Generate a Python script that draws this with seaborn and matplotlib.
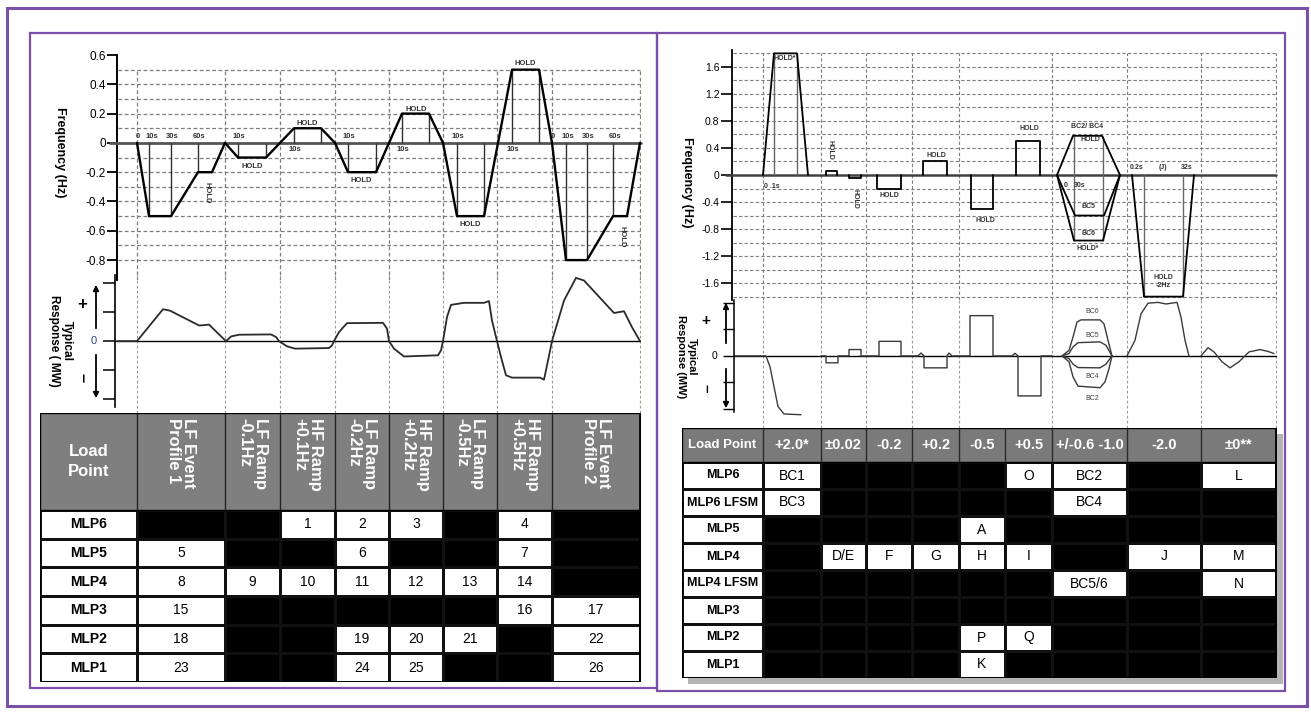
import matplotlib
matplotlib.use("Agg")
import matplotlib.pyplot as plt
import seaborn as sns
import pandas as pd
from matplotlib.patches import Rectangle
from matplotlib.colors import ListedColormap

# ======================= LEFT PANEL DATA =======================
left_bounds = [0, 88, 143, 198, 252, 306, 360, 415, 503]
left_cols = ["LF Event\nProfile 1", "LF Ramp\n-0.1Hz", "HF Ramp\n+0.1Hz", "LF Ramp\n-0.2Hz",
             "HF Ramp\n+0.2Hz", "LF Ramp\n-0.5Hz", "HF Ramp\n+0.5Hz", "LF Event\nProfile 2"]
left_rows = ["MLP6", "MLP5", "MLP4", "MLP3", "MLP2", "MLP1"]
left_cells = [
    ["", "", "1", "2", "3", "", "4", ""],
    ["5", "", "", "6", "", "", "7", ""],
    ["8", "9", "10", "11", "12", "13", "14", ""],
    ["15", "", "", "", "", "", "16", "17"],
    ["18", "", "", "19", "20", "21", "", "22"],
    ["23", "", "", "24", "25", "", "", "26"],
]

# frequency profile (time units, Hz)
lf_t = [0, 12, 34, 61, 75, 88, 101, 129, 143, 157, 184, 198, 211, 239, 252, 265, 292,
        306, 320, 347, 361, 375, 402, 415, 429, 450, 476, 490, 503]
lf_f = [0, -0.5, -0.5, -0.2, -0.2, 0, -0.1, -0.1, 0, 0.1, 0.1, 0, -0.2, -0.2, 0, 0.2, 0.2,
        0, -0.5, -0.5, 0, 0.5, 0.5, 0, -0.8, -0.8, -0.5, -0.5, 0]
lf_mark_t = [12, 34, 61, 101, 129, 157, 184, 211, 239, 265, 292, 320, 347, 375, 402, 429, 450, 476]
lf_mark_f = [-0.5, -0.5, -0.2, -0.1, -0.1, 0.1, 0.1, -0.2, -0.2, 0.2, 0.2, -0.5, -0.5, 0.5, 0.5,
             -0.8, -0.8, -0.5]
lf_yticks = [0.6, 0.4, 0.2, 0, -0.2, -0.4, -0.6, -0.8]
lf_yticklabels = ["0.6", "0.4", "0.2", "0", "-0.2", "-0.4", "-0.6", "-0.8"]
lf_grid = [0.5, 0.4, 0.3, 0.2, 0.1, -0.1, -0.2, -0.3, -0.4, -0.5, -0.6, -0.7, -0.8]
lf_time_text = ["0", "10s", "30s", "60s", "10s", "10s", "10s", "10s", "10s", "10s", "0", "10s", "30s", "60s"]
lf_time_t = [0, 14, 34, 61, 101, 157, 211, 265, 320, 375, 415, 430, 450, 477]
lf_time_side = [1, 1, 1, 1, 1, -1, 1, -1, 1, -1, 1, 1, 1, 1]
lf_hold_t = [115, 170, 224, 279, 333, 388]
lf_hold_f = [-0.16, 0.13, -0.26, 0.23, -0.56, 0.54]
lf_vhold_t = [70, 485]
lf_vhold_f = [-0.34, -0.64]

# typical response (relative MW)
lr_t = [-20, 0, 26, 33, 62, 67, 72, 80, 89, 94, 102, 134, 139, 142, 150, 158, 192, 195, 197,
        202, 210, 246, 250, 252, 257, 267, 301, 304, 306, 310, 314, 327, 347, 352, 355, 360,
        364, 369, 375, 403, 407, 411, 415, 427, 439, 447, 477, 487, 495, 503]
lr_v = [0, 0, 1.1, 1.05, 0.54, 0.55, 0.57, 0.3, 0, 0.16, 0.22, 0.23, 0.14, 0, -0.18, -0.26,
        -0.24, -0.15, 0, 0.31, 0.62, 0.63, 0.43, 0, -0.26, -0.53, -0.49, -0.32, 0, 0.83, 1.25,
        1.32, 1.32, 1.38, 0.71, 0, -0.55, -1.18, -1.26, -1.26, -1.33, -0.67, 0, 1.4, 2.18,
        2.09, 0.97, 1.03, 0.48, 0]
resp_ticks = [-2, -1, 0, 1, 2]

# ======================= RIGHT PANEL DATA =======================
right_bounds = [0, 58, 103, 149, 196, 242, 289, 364, 438, 513]
right_grid_x = [0, 58, 103, 149, 196, 289, 364, 438, 513]
right_cols = ["+2.0*", "±0.02", "-0.2", "+0.2", "-0.5", "+0.5", "+/-0.6 -1.0", "-2.0", "±0**"]
right_rows = ["MLP6", "MLP6 LFSM", "MLP5", "MLP4", "MLP4 LFSM", "MLP3", "MLP2", "MLP1"]
right_cells = [
    ["BC1", "", "", "", "", "O", "BC2", "", "L"],
    ["BC3", "", "", "", "", "", "BC4", "", ""],
    ["", "", "", "", "A", "", "", "", ""],
    ["", "D/E", "F", "G", "H", "I", "", "J", "M"],
    ["", "", "", "", "", "", "BC5/6", "", "N"],
    ["", "", "", "", "", "", "", "", ""],
    ["", "", "", "", "P", "Q", "", "", ""],
    ["", "", "", "", "K", "", "", "", ""],
]

rf_yticks = [1.6, 1.2, 0.8, 0.4, 0, -0.4, -0.8, -1.2, -1.6]
rf_yticklabels = ["1.6", "1.2", "0.8", "0.4", "0", "-0.4", "-0.8", "-1.2", "-1.6"]
rf_grid = [1.8, 1.6, 1.4, 1.2, 1.0, 0.8, 0.6, 0.4, 0.2, -0.2, -0.4, -0.6, -0.8, -1.0, -1.2,
           -1.4, -1.6, -1.8]
rf_pulse_t = [0, 11, 34, 45]
rf_pulse_f = [0, 1.8, 1.8, 0]
rf_box_start = [63, 86, 114, 160, 208, 253]
rf_box_end = [74, 98, 138, 184, 230, 277]
rf_box_level = [0.06, -0.05, -0.2, 0.2, -0.5, 0.5]
rf_bcup_t = [294, 310, 339, 357]
rf_bcup_f = [0, 0.58, 0.58, 0]
rf_bc5_t = [294, 312, 341, 357]
rf_bc5_f = [0, -0.6, -0.6, 0]
rf_bc6_t = [294, 311, 340, 357]
rf_bc6_f = [0, -0.97, -0.97, 0]
rf_neg_t = [369, 381, 420, 431]
rf_neg_f = [0, -1.8, -1.8, 0]
rf_vl_t = [11, 34, 311, 340, 381, 420]
rf_vl_lo = [0, 0, -0.97, -0.97, -1.8, -1.8]
rf_vl_hi = [1.8, 1.8, 0.58, 0.58, 0, 0]

rr_pulse_t = [-29, 3, 7, 11, 15, 21, 38]
rr_pulse_v = [0, 0, -0.41, -1.16, -1.91, -2.19, -2.22]
rr_step_t = [58, 63, 63, 75, 75, 86, 86, 98, 98, 112, 116, 116, 138, 138, 155, 158, 161, 161,
             184, 184, 186, 189, 204, 207, 207, 230, 230, 249, 252, 255, 255, 278, 278, 289]
rr_step_v = [0, 0, -0.26, -0.26, 0, 0, 0.24, 0.24, 0, 0, 0, 0.55, 0.55, 0, 0, 0.11, 0, -0.45,
             -0.45, 0, 0.11, 0, 0, 0, 1.52, 1.52, 0, 0, 0.1, 0, -1.51, -1.51, 0, 0]
rr_bc6_t = [299, 306, 310, 314, 318, 337, 341, 345, 349]
rr_bc6_v = [0, 0.21, 0.71, 1.28, 1.36, 1.36, 1.21, 0.59, 0]
rr_bc5_t = [299, 306, 310, 315, 337, 343, 349]
rr_bc5_v = [0, 0.09, 0.34, 0.5, 0.53, 0.4, 0]
rr_bc4_t = [299, 306, 310, 315, 337, 343, 349]
rr_bc4_v = [0, -0.1, -0.31, -0.44, -0.45, -0.31, 0]
rr_bc2_t = [299, 306, 310, 315, 337, 342, 346, 349]
rr_bc2_v = [0, -0.22, -0.79, -1.14, -1.2, -0.98, -0.48, 0]
rr_big_t = [364, 372, 378, 385, 395, 403, 414, 418, 422, 426]
rr_big_v = [0, 0.59, 1.59, 1.99, 2.02, 1.96, 2.02, 1.46, 0.59, 0]
rr_osc_t = [438, 445, 451, 459, 467, 476, 486, 497, 505, 511]
rr_osc_v = [0, 0.31, 0.15, -0.22, -0.45, -0.22, 0.15, 0.24, 0.17, 0.09]

# ======================= FIGURE =======================
sns.set_theme(style="white", rc={"axes.edgecolor": "black", "xtick.color": "black",
                                 "ytick.color": "black", "text.color": "black"})
plt.rcParams["font.family"] = ["Liberation Sans", "DejaVu Sans"]
NARROW = ["Liberation Sans Narrow", "Liberation Sans", "DejaVu Sans"]

W, H = 1311, 713
fig = plt.figure(figsize=(W / 100, H / 100), dpi=100)
fig.patch.set_facecolor("white")

bg = fig.add_axes([0, 0, 1, 1])
bg.set_xlim(0, W)
bg.set_ylim(H, 0)
bg.axis("off")
purple = "#7a50a8"
bg.add_patch(Rectangle((7, 8), 1300, 698, fill=False, ec=purple, lw=2.2))
bg.add_patch(Rectangle((30, 33), 627, 655, fill=False, ec=purple, lw=1.6))
bg.add_patch(Rectangle((657, 33), 628, 658, fill=False, ec=purple, lw=1.6))
bg.add_patch(Rectangle((688, 434), 595, 250, fc="#b4b4b4", ec="none"))


def add_ax(x0, y0, x1, y1):
    ax = fig.add_axes([x0 / W, 1 - y1 / H, (x1 - x0) / W, (y1 - y0) / H])
    ax.set_facecolor("none")
    for s in ax.spines.values():
        s.set_visible(False)
    return ax


DASH = (0, (3, 2))
GRID_C = "#7d7d7d"

# ---------------- left frequency chart ----------------
axLF = add_ax(117, 55, 641, 280)
axLF.hlines(lf_grid, -19, 503, colors=GRID_C, linestyles=DASH, lw=0.9)
axLF.vlines(left_bounds, -0.94, 0.5, colors=GRID_C, linestyles=DASH, lw=0.9)
axLF.plot([-27, 504], [0, 0], color="#555555", lw=2, clip_on=False, zorder=3)
axLF.vlines(lf_mark_t, 0, lf_mark_f, colors="#303030", lw=1, zorder=3)
sns.lineplot(x=lf_t, y=lf_f, ax=axLF, sort=False, estimator=None, color="black", lw=1.7, zorder=4)
axLF.set_xlim(-20, 504)
axLF.set_ylim(-0.936, 0.6)
axLF.spines["left"].set_visible(True)
axLF.spines["left"].set_linewidth(1.4)
axLF.set_xticks([])
axLF.set_yticks(lf_yticks)
axLF.set_yticklabels(lf_yticklabels)
axLF.tick_params(axis="y", direction="out", length=7, width=1.3, labelsize=8.5, pad=1, left=True)
axLF.set_xlabel("")
axLF.set_ylabel("")
for txt, t, side in zip(lf_time_text, lf_time_t, lf_time_side):
    axLF.text(t + 1, 0.02 * side, txt, ha="center", va="bottom" if side > 0 else "top",
              fontsize=5.5, fontweight="bold", color="#333333", zorder=5)
for t, f in zip(lf_hold_t, lf_hold_f):
    axLF.text(t, f, "HOLD", ha="center", va="center", fontsize=5.5, fontweight="bold",
              color="#333333", zorder=5)
for t, f in zip(lf_vhold_t, lf_vhold_f):
    axLF.text(t, f, "HOLD", ha="center", va="center", fontsize=5.5, fontweight="bold",
              color="#333333", rotation=-90, zorder=5)
bg.text(60, 152, "Frequency (Hz)", rotation=-90, ha="center", va="center", fontsize=9,
        fontweight="bold")

# ---------------- left response chart ----------------
axLR = add_ax(115, 275, 641, 413)
axLR.vlines(left_bounds, -2.48, 2.28, colors="#9a9a9a", linestyles=(0, (2.5, 2)), lw=0.8)
axLR.plot([-22, 503], [0, 0], color="black", lw=1)
sns.lineplot(x=lr_t, y=lr_v, ax=axLR, sort=False, estimator=None, color="#2a2a2a", lw=1.3)
axLR.set_xlim(-22, 504)
axLR.set_ylim(-2.48, 2.28)
axLR.spines["left"].set_visible(True)
axLR.spines["left"].set_bounds(-2.28, 2.28)
axLR.spines["left"].set_linewidth(1.2)
axLR.set_xticks([])
axLR.set_yticks(resp_ticks)
axLR.set_yticklabels([])
axLR.tick_params(axis="y", direction="out", length=9, width=1.1, left=True)
axLR.set_xlabel("")
axLR.set_ylabel("")
bg.text(60, 341, "Typical\nResponse ( MW)", rotation=-90, ha="center", va="center",
        fontsize=8.5, fontweight="bold", multialignment="center", linespacing=1.1)
bg.text(82, 304, "+", ha="center", va="center", fontsize=12, fontweight="bold")
bg.text(82, 378, "–", ha="center", va="center", fontsize=12, fontweight="bold", rotation=-90)
bg.text(94, 341, "0", ha="center", va="center", fontsize=8, color="#2b3f73")
arrow = dict(arrowstyle="-|>", color="black", lw=1.3, mutation_scale=8)
bg.annotate("", xy=(96, 282), xytext=(96, 331), arrowprops=arrow)
bg.annotate("", xy=(96, 401), xytext=(96, 352), arrowprops=arrow)

# ---------------- left table ----------------
axLT = add_ax(40, 413, 641, 682)
lt_hdr = 97
lt_rowh = (269 - lt_hdr) / len(left_rows)
lxe = [-97] + left_bounds
lye = [lt_hdr + i * lt_rowh for i in range(len(left_rows) + 1)]
lmat = [[1] + [1 if c else 0 for c in row] for row in left_cells]
axLT.pcolormesh(lxe, lye, lmat, cmap=ListedColormap(["black", "white"]), vmin=0, vmax=1,
                edgecolors="#111111", linewidth=0.9)
axLT.add_patch(Rectangle((-97, 0), 600, lt_hdr, fc="#7f7f7f", ec="black", lw=1))
axLT.vlines(left_bounds[:-1], 0, lt_hdr, colors="#222222", lw=1)
axLT.add_patch(Rectangle((-97, 0), 600, 269, fill=False, ec="black", lw=1.2))
axLT.set_xlim(-97, 504)
axLT.set_ylim(269, 0)
axLT.set_xticks([])
axLT.set_yticks([])
axLT.text(-48.5, lt_hdr / 2, "Load\nPoint", ha="center", va="center", color="white",
          fontsize=12, fontweight="bold", linespacing=1.35)
for i, name in enumerate(left_cols):
    cx = (left_bounds[i] + left_bounds[i + 1]) / 2
    axLT.text(cx, 5, name, ha="center", va="top", rotation=-90, color="white", fontsize=12,
              fontweight="bold", linespacing=1.05, multialignment="left")
for r, (rname, row) in enumerate(zip(left_rows, left_cells)):
    cy = lye[r] + lt_rowh / 2
    axLT.text(-48.5, cy, rname, ha="center", va="center", fontsize=10, fontweight="bold")
    for c, val in enumerate(row):
        if val:
            cx = (left_bounds[c] + left_bounds[c + 1]) / 2
            axLT.text(cx, cy, val, ha="center", va="center", fontsize=10)

# ---------------- right frequency chart ----------------
axRF = add_ax(732, 50, 1277, 300)
axRF.hlines(rf_grid, -30, 513, colors=GRID_C, linestyles=DASH, lw=0.8)
axRF.vlines(right_grid_x, -1.85, 1.8, colors=GRID_C, linestyles=DASH, lw=0.8)
axRF.plot([-37, 513], [0, 0], color="#404040", lw=1.8, clip_on=False, zorder=3)
axRF.vlines(rf_vl_t, rf_vl_lo, rf_vl_hi, colors="#666666", lw=1, zorder=3)
rf_parts = [("pulse", rf_pulse_t, rf_pulse_f), ("bcup", rf_bcup_t, rf_bcup_f),
            ("bc5", rf_bc5_t, rf_bc5_f), ("bc6", rf_bc6_t, rf_bc6_f), ("neg", rf_neg_t, rf_neg_f)]
for k, (s, e, lv) in enumerate(zip(rf_box_start, rf_box_end, rf_box_level)):
    rf_parts.append((f"box{k}", [s, s, e, e], [0, lv, lv, 0]))
rf_df = pd.concat([pd.DataFrame({"seg": n, "t": t, "f": f}) for n, t, f in rf_parts],
                  ignore_index=True)
sns.lineplot(data=rf_df, x="t", y="f", units="seg", estimator=None, sort=False, color="black",
             lw=1.3, ax=axRF, zorder=4)
axRF.set_xlim(-31, 514)
axRF.set_ylim(-1.85, 1.85)
axRF.spines["left"].set_visible(True)
axRF.spines["left"].set_linewidth(1.3)
axRF.set_xticks([])
axRF.set_yticks(rf_yticks)
axRF.set_yticklabels(rf_yticklabels)
axRF.tick_params(axis="y", direction="out", length=8, width=1.2, labelsize=7.5, pad=1, left=True)
axRF.set_xlabel("")
axRF.set_ylabel("")
small = dict(fontsize=5, fontweight="bold", color="#333333", ha="center", va="center", zorder=5)
rf_lab_text = ["HOLD*", "0 .1s", "HOLD", "HOLD", "HOLD", "HOLD", "BC2/ BC4", "HOLD", "0", "30s",
               "BC5", "BC6", "HOLD*", "0.2s", "(J)", "32s", "HOLD\n-2Hz"]
rf_lab_t = [22, 9, 126, 173, 222, 266, 324, 327, 303, 317, 325, 325, 325, 374, 400, 424, 400]
rf_lab_f = [1.72, -0.17, -0.3, 0.29, -0.67, 0.69, 0.72, 0.52, -0.16, -0.16, -0.47, -0.86,
            -1.09, 0.11, 0.11, 0.11, -1.57]
for txt, t, f in zip(rf_lab_text, rf_lab_t, rf_lab_f):
    axRF.text(t, f, txt, **small)
axRF.text(67, 0.37, "HOLD", rotation=-90, **small)
axRF.text(92, -0.36, "HOLD", rotation=-90, **small)
bg.text(687, 182, "Frequency (Hz)", rotation=-90, ha="center", va="center", fontsize=9,
        fontweight="bold")

# ---------------- right response chart ----------------
axRR = add_ax(734, 300, 1277, 428)
axRR.vlines(right_grid_x, -2.72, 2.11, colors="#9a9a9a", linestyles=(0, (2.5, 2)), lw=0.8)
axRR.plot([-29, 513], [0, 0], color="black", lw=1)
rr_parts = [("pulse", rr_pulse_t, rr_pulse_v), ("steps", rr_step_t, rr_step_v),
            ("bc6", rr_bc6_t, rr_bc6_v), ("bc5", rr_bc5_t, rr_bc5_v),
            ("bc4", rr_bc4_t, rr_bc4_v), ("bc2", rr_bc2_t, rr_bc2_v),
            ("big", rr_big_t, rr_big_v), ("osc", rr_osc_t, rr_osc_v)]
rr_df = pd.concat([pd.DataFrame({"seg": n, "t": t, "v": v}) for n, t, v in rr_parts],
                  ignore_index=True)
sns.lineplot(data=rr_df, x="t", y="v", units="seg", estimator=None, sort=False,
             color="#3a3a3a", lw=1, ax=axRR)
axRR.set_xlim(-29, 514)
axRR.set_ylim(-2.72, 2.11)
axRR.spines["left"].set_visible(True)
axRR.spines["left"].set_bounds(-2.11, 2.11)
axRR.spines["left"].set_linewidth(1.1)
axRR.set_xticks([])
axRR.set_yticks(resp_ticks)
axRR.set_yticklabels([])
axRR.tick_params(axis="y", direction="out", length=8, width=1, left=True)
axRR.set_xlabel("")
axRR.set_ylabel("")
for txt, f in zip(["BC6", "BC5", "BC4", "BC2"], [1.68, 0.76, -0.76, -1.6]):
    axRR.text(329, f, txt, fontsize=5, color="#444444", ha="center", va="center")
bg.text(686, 357, "Typical\nResponse (MW)", rotation=-90, ha="center", va="center",
        fontsize=8, fontweight="bold", multialignment="center", linespacing=1.1)
bg.text(706, 321, "+", ha="center", va="center", fontsize=11, fontweight="bold")
bg.text(706, 388, "–", ha="center", va="center", fontsize=11, fontweight="bold", rotation=-90)
bg.text(715, 356, "0", ha="center", va="center", fontsize=7.5)
bg.annotate("", xy=(726, 300), xytext=(726, 346), arrowprops=arrow)
bg.annotate("", xy=(726, 411), xytext=(726, 366), arrowprops=arrow)

# ---------------- right table ----------------
axRT = add_ax(682, 428, 1277, 678)
rt_hdr = 34
rt_rowh = (250 - rt_hdr) / len(right_rows)
rxe = [-81] + right_bounds
rye = [rt_hdr + i * rt_rowh for i in range(len(right_rows) + 1)]
rmat = [[1] + [1 if c else 0 for c in row] for row in right_cells]
axRT.pcolormesh(rxe, rye, rmat, cmap=ListedColormap(["black", "white"]), vmin=0, vmax=1,
                edgecolors="#111111", linewidth=0.9)
axRT.add_patch(Rectangle((-81, 0), 594, rt_hdr, fc="#7a7a7a", ec="black", lw=1))
axRT.vlines(right_bounds[:-1], 0, rt_hdr, colors="#2a2a2a", lw=1)
axRT.add_patch(Rectangle((-81, 0), 594, 250, fill=False, ec="black", lw=1.2))
axRT.set_xlim(-81, 514)
axRT.set_ylim(250, 0)
axRT.set_xticks([])
axRT.set_yticks([])
axRT.text(-40.5, rt_hdr / 2, "Load Point", ha="center", va="center", color="white",
          fontsize=9.5, fontweight="bold", family=NARROW)
for i, name in enumerate(right_cols):
    cx = (right_bounds[i] + right_bounds[i + 1]) / 2
    axRT.text(cx, rt_hdr / 2, name, ha="center", va="center", color="white", fontsize=10.5,
              fontweight="bold", family=NARROW)
for r, (rname, row) in enumerate(zip(right_rows, right_cells)):
    cy = rye[r] + rt_rowh / 2
    axRT.text(-40.5, cy, rname, ha="center", va="center", fontsize=9, fontweight="bold",
              family=NARROW)
    for c, val in enumerate(row):
        if val:
            cx = (right_bounds[c] + right_bounds[c + 1]) / 2
            axRT.text(cx, cy, val, ha="center", va="center", fontsize=10, family=NARROW)

fig.savefig("out.png", dpi=100, facecolor="white")
